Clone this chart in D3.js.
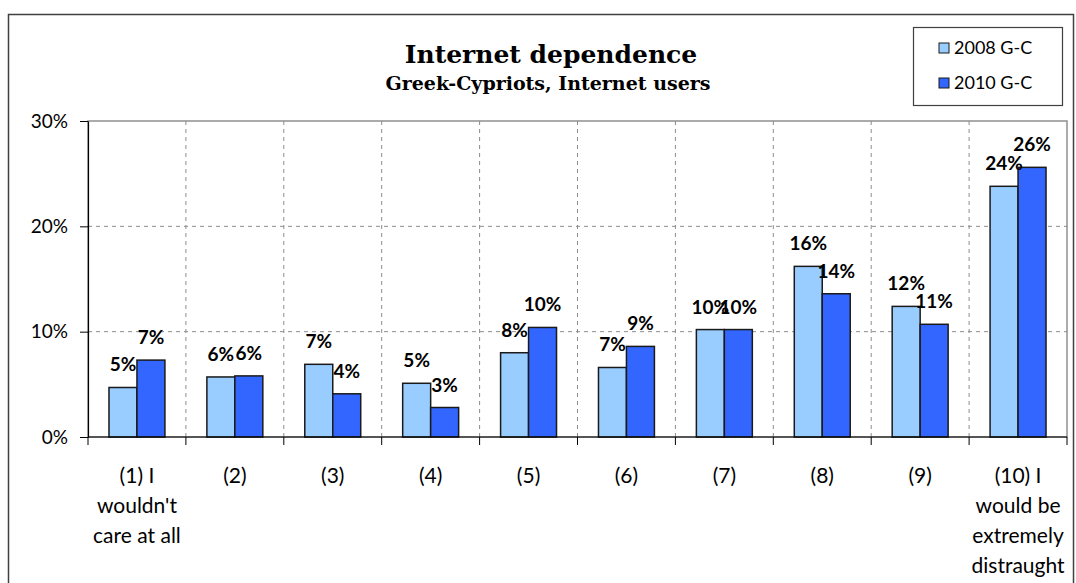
<!DOCTYPE html>
<html>
<head>
<meta charset="utf-8">
<script src="https://cdn.jsdelivr.net/npm/d3@7"></script>
<style>
    body { margin: 0; background: white; }
    #chart-area { width: 1076px; height: 583px; }
</style>
</head>
<body>
<div id="chart-area"></div>
<script>

// chart data
let seriesNames = ["2008 G-C", "2010 G-C"];
let categoryLines = [
    ["(1) I", "wouldn't", "care at all"],
    ["(2)"], ["(3)"], ["(4)"], ["(5)"], ["(6)"], ["(7)"], ["(8)"], ["(9)"],
    ["(10) I", "would be", "extremely", "distraught"]
];
let values2008 = [4.7, 5.7, 6.9, 5.1, 8.0, 6.6, 10.2, 16.2, 12.4, 23.8];
let values2010 = [7.3, 5.8, 4.1, 2.8, 10.4, 8.6, 10.2, 13.6, 10.7, 25.6];
let yTicks = [0, 10, 20, 30];
let seriesColors = ["#99ccff", "#3366ff"];

/* * * * * * * * * * * * * *
*         BarVis           *
* * * * * * * * * * * * * */

class BarVis {

    constructor(parentElement) {
        this.parentElement = parentElement;
        this.initVis();
    }

    initVis() {
        let vis = this;

        vis.margin = {top: 121, right: 9, bottom: 146, left: 88};
        vis.width = 1076 - vis.margin.left - vis.margin.right;
        vis.height = 583 - vis.margin.top - vis.margin.bottom;

        vis.root = d3.select("#" + vis.parentElement).append("svg")
            .attr("width", 1076)
            .attr("height", 583);

        // outer chart frame
        vis.root.append("rect")
            .attr("x", 8.5).attr("y", 14.5)
            .attr("width", 1065).attr("height", 600)
            .attr("fill", "white")
            .attr("stroke", "#404040")
            .attr("stroke-width", 1.5);

        vis.svg = vis.root.append("g")
            .attr("transform", `translate(${vis.margin.left}, ${vis.margin.top})`);

        vis.x = d3.scaleBand()
            .domain(d3.range(categoryLines.length))
            .range([0, vis.width])
            .padding(0);

        vis.xSeries = d3.scaleBand()
            .domain(d3.range(seriesNames.length))
            .range([0, vis.x.bandwidth()])
            .paddingInner(0)
            .paddingOuter(0.75);

        vis.y = d3.scaleLinear()
            .domain([0, 30])
            .range([vis.height, 0]);

        vis.wrangleData();
    }

    wrangleData() {
        let vis = this;
        vis.rows = [];
        values2008.forEach((v, i) => {
            vis.rows.push({cat: i, s: 0, value: v});
            vis.rows.push({cat: i, s: 1, value: values2010[i]});
        });
        vis.updateVis();
    }

    updateVis() {
        let vis = this;

        // plot border (top / right)
        vis.svg.append("rect")
            .attr("x", 0).attr("y", 0)
            .attr("width", vis.width).attr("height", vis.height)
            .attr("fill", "none")
            .attr("stroke", "#909090")
            .attr("stroke-width", 1.5);

        // horizontal dashed grid
        vis.svg.selectAll(".hgrid")
            .data(yTicks.filter(d => d > 0 && d < 30))
            .enter().append("line")
            .attr("class", "hgrid")
            .attr("x1", 0).attr("x2", vis.width)
            .attr("y1", d => vis.y(d)).attr("y2", d => vis.y(d))
            .attr("stroke", "#8c8c8c")
            .attr("stroke-dasharray", "4,4");

        // vertical dashed grid at category boundaries
        vis.svg.selectAll(".vgrid")
            .data(d3.range(1, categoryLines.length))
            .enter().append("line")
            .attr("class", "vgrid")
            .attr("x1", d => vis.x(d)).attr("x2", d => vis.x(d))
            .attr("y1", 0).attr("y2", vis.height)
            .attr("stroke", "#8c8c8c")
            .attr("stroke-dasharray", "4,4");

        // bars
        vis.svg.selectAll(".bar")
            .data(vis.rows)
            .enter().append("rect")
            .attr("class", "bar")
            .attr("x", d => vis.x(d.cat) + vis.xSeries(d.s))
            .attr("y", d => vis.y(d.value))
            .attr("width", vis.xSeries.bandwidth())
            .attr("height", d => vis.height - vis.y(d.value))
            .attr("fill", d => seriesColors[d.s])
            .attr("stroke", "#1a1a1a")
            .attr("stroke-width", 1.5);

        // value labels
        vis.svg.selectAll(".val")
            .data(vis.rows)
            .enter().append("text")
            .attr("class", "val")
            .attr("x", d => vis.x(d.cat) + vis.xSeries(d.s) + vis.xSeries.bandwidth() / 2)
            .attr("y", d => vis.y(d.value) - 16)
            .attr("text-anchor", "middle")
            .attr("font-family", "Lato, sans-serif")
            .attr("font-weight", "bold")
            .attr("font-size", 19)
            .attr("fill", "black")
            .text(d => Math.round(d.value) + "%");

        // y axis
        vis.yAxis = d3.axisLeft(vis.y)
            .tickValues(yTicks)
            .tickSize(8)
            .tickSizeOuter(0)
            .tickFormat(d => d + "%");
        let yg = vis.svg.append("g").attr("class", "y-axis").call(vis.yAxis);
        yg.select(".domain").attr("stroke", "black").attr("stroke-width", 1.2);
        yg.selectAll(".tick line").attr("stroke", "black");
        yg.selectAll(".tick text")
            .attr("x", -20)
            .attr("font-family", "Lato, sans-serif")
            .attr("font-size", 19)
            .attr("fill", "black");

        // x axis: ticks at category boundaries
        let xg = vis.svg.append("g")
            .attr("transform", `translate(0, ${vis.height})`);
        xg.append("line")
            .attr("x1", 0).attr("x2", vis.width)
            .attr("stroke", "black").attr("stroke-width", 1.2);
        xg.selectAll(".xtick")
            .data(d3.range(categoryLines.length + 1))
            .enter().append("line")
            .attr("x1", d => d < categoryLines.length ? vis.x(d) : vis.width)
            .attr("x2", d => d < categoryLines.length ? vis.x(d) : vis.width)
            .attr("y1", 0).attr("y2", 8)
            .attr("stroke", "black");

        let labels = xg.selectAll(".xlab")
            .data(categoryLines)
            .enter().append("text")
            .attr("class", "xlab")
            .attr("text-anchor", "middle")
            .attr("font-family", "Lato, sans-serif")
            .attr("font-size", 21)
            .attr("fill", "black");
        labels.selectAll("tspan")
            .data((d, i) => d.map(line => ({line, i})))
            .enter().append("tspan")
            .attr("x", d => vis.x(d.i) + vis.x.bandwidth() / 2)
            .attr("y", (d, j) => 46 + j * 30)
            .text(d => d.line);

        // titles
        vis.root.append("text")
            .attr("x", 551).attr("y", 63)
            .attr("text-anchor", "middle")
            .attr("font-family", "DejaVu Serif, serif")
            .attr("font-weight", "bold")
            .attr("font-size", 25)
            .text("Internet dependence");
        vis.root.append("text")
            .attr("x", 548).attr("y", 90)
            .attr("text-anchor", "middle")
            .attr("font-family", "DejaVu Serif, serif")
            .attr("font-weight", "bold")
            .attr("font-size", 19)
            .text("Greek-Cypriots, Internet users");

        // legend
        let legend = vis.root.append("g").attr("transform", "translate(913, 27)");
        legend.append("rect")
            .attr("x", 0.5).attr("y", 0.5)
            .attr("width", 149).attr("height", 78)
            .attr("fill", "white")
            .attr("stroke", "#404040")
            .attr("stroke-width", 1.2);
        let items = legend.selectAll(".leg")
            .data(seriesNames)
            .enter().append("g")
            .attr("transform", (d, i) => `translate(26, ${16 + i * 35})`);
        items.append("rect")
            .attr("width", 10).attr("height", 10)
            .attr("fill", (d, i) => seriesColors[i])
            .attr("stroke", "#1a1a1a");
        items.append("text")
            .attr("x", 15).attr("y", 11)
            .attr("font-family", "Lato, sans-serif")
            .attr("font-size", 18)
            .text(d => d);
    }
}

new BarVis("chart-area");
</script>
</body>
</html>
